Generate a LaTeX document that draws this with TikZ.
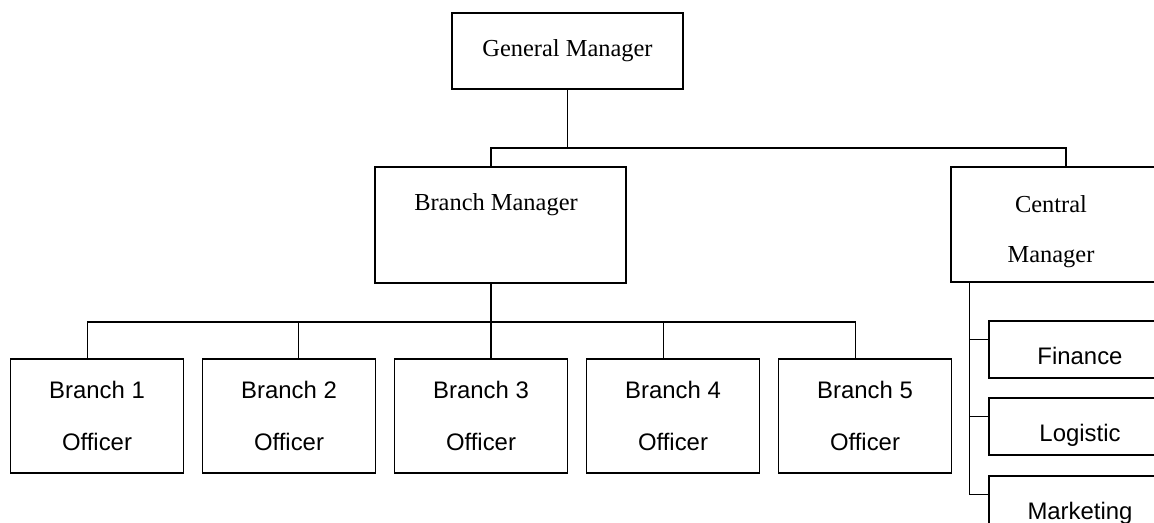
\documentclass[tikz,border=0pt]{standalone}
\usepackage{fontspec}
\setmainfont{Liberation Serif}
\setsansfont{Liberation Sans}
\usepackage{tikz}
\usetikzlibrary{shapes.geometric}
\tikzstyle{mgrtext} = [font=\fontsize{13.9}{28.4}\selectfont]
\tikzstyle{mgr} = [rectangle, draw, line width=1pt, mgrtext]
\tikzstyle{branch} = [rectangle, draw, line width=1pt, align=center, minimum width=3.46cm, minimum height=2.28cm, font=\sffamily\fontsize{13.6}{29.3}\selectfont]
\tikzstyle{dept} = [rectangle, draw, line width=1pt, minimum width=3.64cm, minimum height=1.15cm, text height=0.62cm, text depth=0pt, font=\sffamily\fontsize{13.6}{16}\selectfont]
\tikzstyle{line} = [line width=0.8pt]

\begin{document}
\begin{tikzpicture}[node distance=3.84cm]
  \path[use as bounding box, clip] (0,0) rectangle (23.08,-10.46);

  \node (gm) [mgr, minimum width=4.62cm, minimum height=1.52cm] at (11.35,-1.02) {General Manager};
  \node (bm) [mgr, minimum width=5.02cm, minimum height=2.32cm,
    label={[mgrtext, xshift=-0.09cm, yshift=0.4cm]center:Branch Manager}] at (10.01,-4.5) {};
  \node (cm) [mgr, minimum width=4.6cm, minimum height=2.3cm,
    label={[mgrtext, align=center, xshift=-0.3cm, yshift=-0.14cm]center:Central\\Manager}] at (21.32,-4.49) {};

  \node (b1) [branch] at (1.94,-8.32) {Branch 1\\Officer};
  \node (b2) [branch, right of=b1] {Branch 2\\Officer};
  \node (b3) [branch, right of=b2] {Branch 3\\Officer};
  \node (b4) [branch, right of=b3] {Branch 4\\Officer};
  \node (b5) [branch, right of=b4] {Branch 5\\Officer};

  \node (fin) [dept] at (21.6,-6.99) {Finance};
  \node (log) [dept, below of=fin, node distance=1.54cm] {Logistic};
  \node (mkt) [dept, below of=log, node distance=1.56cm] {Marketing};

  \draw [line] (gm.south) -- ++(0,-1.16) -| ([xshift=-0.19cm]bm.north);
  \draw [line] (gm.south) -- ++(0,-1.16) -| (cm.north);

  \foreach \b/\dx in {b1/-0.19, b2/0.19, b3/0.2, b4/-0.19, b5/-0.19}
    \draw [line] ([xshift=-0.19cm]bm.south) -- ++(0,-0.76) -| ([xshift=\dx cm]\b.north);

  \foreach \d in {fin, log, mkt}
    \draw [line] ([xshift=0.39cm]cm.south west) |- ([yshift=0.2cm]\d.west);
\end{tikzpicture}
\end{document}
